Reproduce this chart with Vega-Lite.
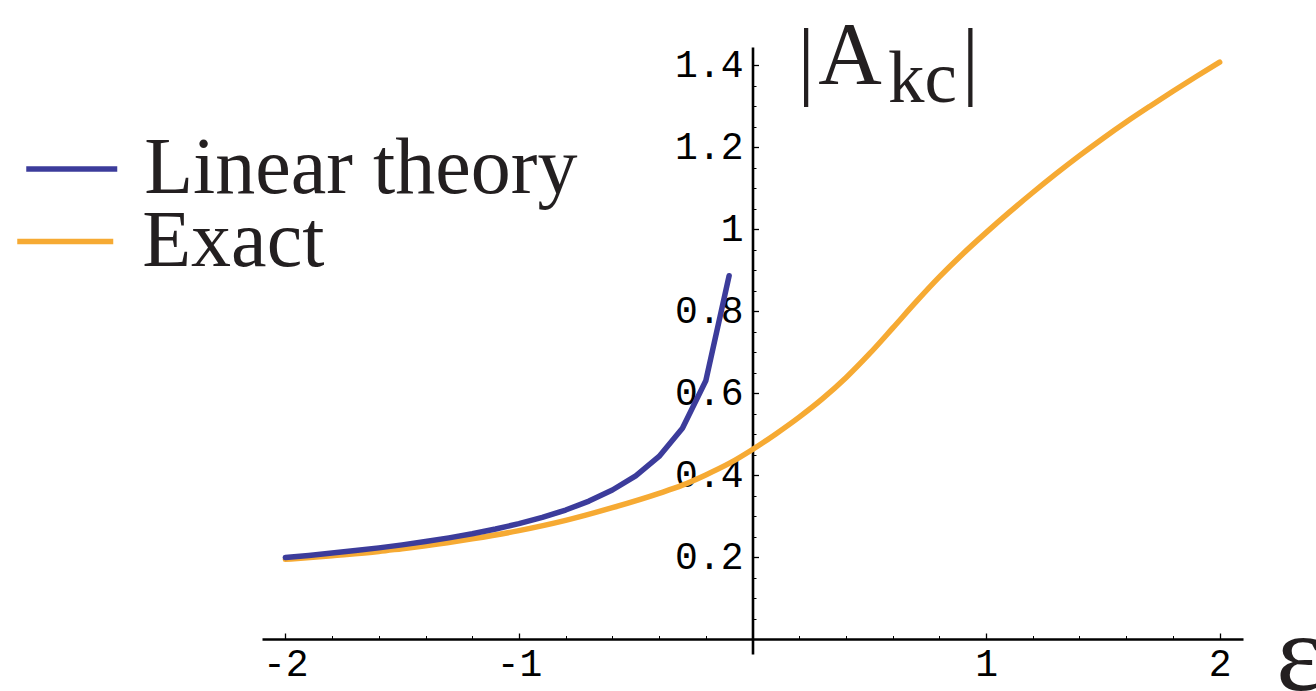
{
  "$schema": "https://vega.github.io/schema/vega-lite/v6.json",
  "width": 981,
  "height": 607,
  "autosize": {"type": "none"},
  "padding": {"left": 262, "top": 47, "right": 73, "bottom": 37},
  "background": "white",
  "config": {"view": {"stroke": null}},
  "datasets": {
    "curves": [
      {"eps": -2.0, "amp": 0.1994, "series": "Linear theory"},
      {"eps": -1.9, "amp": 0.2046, "series": "Linear theory"},
      {"eps": -1.8, "amp": 0.2102, "series": "Linear theory"},
      {"eps": -1.7, "amp": 0.2163, "series": "Linear theory"},
      {"eps": -1.6, "amp": 0.2229, "series": "Linear theory"},
      {"eps": -1.5, "amp": 0.2303, "series": "Linear theory"},
      {"eps": -1.4, "amp": 0.2383, "series": "Linear theory"},
      {"eps": -1.3, "amp": 0.2473, "series": "Linear theory"},
      {"eps": -1.2, "amp": 0.2574, "series": "Linear theory"},
      {"eps": -1.1, "amp": 0.2689, "series": "Linear theory"},
      {"eps": -1.0, "amp": 0.2820, "series": "Linear theory"},
      {"eps": -0.9, "amp": 0.2973, "series": "Linear theory"},
      {"eps": -0.8, "amp": 0.3153, "series": "Linear theory"},
      {"eps": -0.7, "amp": 0.3371, "series": "Linear theory"},
      {"eps": -0.6, "amp": 0.3641, "series": "Linear theory"},
      {"eps": -0.5, "amp": 0.3988, "series": "Linear theory"},
      {"eps": -0.4, "amp": 0.4459, "series": "Linear theory"},
      {"eps": -0.3, "amp": 0.5149, "series": "Linear theory"},
      {"eps": -0.2, "amp": 0.6306, "series": "Linear theory"},
      {"eps": -0.1, "amp": 0.8870, "series": "Linear theory"},
      {"eps": -2.0, "amp": 0.195, "series": "Exact"},
      {"eps": -1.8, "amp": 0.204, "series": "Exact"},
      {"eps": -1.6, "amp": 0.214, "series": "Exact"},
      {"eps": -1.5, "amp": 0.221, "series": "Exact"},
      {"eps": -1.4, "amp": 0.228, "series": "Exact"},
      {"eps": -1.2, "amp": 0.245, "series": "Exact"},
      {"eps": -1.0, "amp": 0.265, "series": "Exact"},
      {"eps": -0.8, "amp": 0.290, "series": "Exact"},
      {"eps": -0.6, "amp": 0.321, "series": "Exact"},
      {"eps": -0.4, "amp": 0.356, "series": "Exact"},
      {"eps": -0.3, "amp": 0.376, "series": "Exact"},
      {"eps": -0.2, "amp": 0.401, "series": "Exact"},
      {"eps": -0.1, "amp": 0.429, "series": "Exact"},
      {"eps": 0.0, "amp": 0.463, "series": "Exact"},
      {"eps": 0.1, "amp": 0.501, "series": "Exact"},
      {"eps": 0.2, "amp": 0.542, "series": "Exact"},
      {"eps": 0.3, "amp": 0.587, "series": "Exact"},
      {"eps": 0.4, "amp": 0.638, "series": "Exact"},
      {"eps": 0.5, "amp": 0.696, "series": "Exact"},
      {"eps": 0.6, "amp": 0.759, "series": "Exact"},
      {"eps": 0.7, "amp": 0.823, "series": "Exact"},
      {"eps": 0.8, "amp": 0.884, "series": "Exact"},
      {"eps": 0.9, "amp": 0.940, "series": "Exact"},
      {"eps": 1.0, "amp": 0.992, "series": "Exact"},
      {"eps": 1.1, "amp": 1.042, "series": "Exact"},
      {"eps": 1.2, "amp": 1.090, "series": "Exact"},
      {"eps": 1.3, "amp": 1.136, "series": "Exact"},
      {"eps": 1.4, "amp": 1.180, "series": "Exact"},
      {"eps": 1.5, "amp": 1.222, "series": "Exact"},
      {"eps": 1.6, "amp": 1.262, "series": "Exact"},
      {"eps": 1.7, "amp": 1.300, "series": "Exact"},
      {"eps": 1.8, "amp": 1.337, "series": "Exact"},
      {"eps": 1.9, "amp": 1.373, "series": "Exact"},
      {"eps": 2.0, "amp": 1.408, "series": "Exact"}
    ]
  },
  "data": {"name": "curves"},
  "layer": [
    {
      "transform": [{"filter": "datum.series === 'Exact'"}],
      "mark": {"type": "line", "strokeWidth": 5.5, "interpolate": "monotone", "strokeCap": "round"},
      "encoding": {
        "x": {
          "field": "eps", "type": "quantitative",
          "scale": {"domain": [-2.1, 2.1], "nice": false, "zero": false},
          "axis": {
            "orient": "bottom", "offset": -15, "title": null, "grid": false,
            "values": [-2, -1, 1, 2], "tickSize": -6, "tickWidth": 1.3, "tickColor": "black",
            "domainWidth": 2.6, "domainColor": "black",
            "labelFont": "Liberation Mono", "labelFontSize": 38, "labelColor": "black",
            "labelPadding": 12, "labelExpr": "'' + datum.value", "labelFlush": false, "labelOverlap": false
          }
        },
        "y": {
          "field": "amp", "type": "quantitative",
          "scale": {"domain": [-0.036, 1.445], "nice": false, "zero": false},
          "axis": {
            "orient": "left", "offset": -490.5, "title": null, "grid": false,
            "values": [0.2, 0.4, 0.6, 0.8, 1, 1.2, 1.4], "tickSize": -6, "tickWidth": 1.3, "tickColor": "black",
            "domainWidth": 2.6, "domainColor": "black",
            "labelFont": "Liberation Mono", "labelFontSize": 38, "labelColor": "black",
            "labelPadding": 15.5, "labelExpr": "'' + datum.value", "labelFlush": false, "labelOverlap": false
          }
        },
        "color": {
          "field": "series", "type": "nominal",
          "scale": {"domain": ["Exact"], "range": ["#f6aa33"]},
          "legend": {
            "orient": "none", "legendX": -247.75, "legendY": 143.5, "title": null, "padding": 0,
            "symbolType": "stroke", "symbolStrokeWidth": 5.5, "symbolSize": 9216,
            "labelFont": "Liberation Serif", "labelFontSize": 80, "labelColor": "#231f20",
            "labelOffset": 26, "labelLimit": 1000
          }
        }
      }
    },
    {
      "transform": [{"filter": "datum.series === 'Linear theory'"}],
      "mark": {"type": "line", "strokeWidth": 5.5, "interpolate": "linear", "strokeCap": "round", "strokeJoin": "round"},
      "encoding": {
        "x": {
          "field": "eps", "type": "quantitative",
          "scale": {"domain": [-2.1, 2.1], "nice": false, "zero": false},
          "axis": {
            "orient": "bottom", "offset": -15, "title": null, "grid": false, "domain": false, "labels": false,
            "values": [-1.8, -1.6, -1.4, -1.2, -0.8, -0.6, -0.4, -0.2, 0.2, 0.4, 0.6, 0.8, 1.2, 1.4, 1.6, 1.8],
            "tickSize": -3.5, "tickWidth": 1, "tickColor": "black"
          }
        },
        "y": {
          "field": "amp", "type": "quantitative",
          "scale": {"domain": [-0.036, 1.445], "nice": false, "zero": false},
          "axis": {
            "orient": "left", "offset": -490.5, "title": null, "grid": false, "domain": false, "labels": false,
            "values": [0.05, 0.1, 0.15, 0.25, 0.3, 0.35, 0.45, 0.5, 0.55, 0.65, 0.7, 0.75, 0.85, 0.9, 0.95, 1.05, 1.1, 1.15, 1.25, 1.3, 1.35],
            "tickSize": -3.5, "tickWidth": 1, "tickColor": "black"
          }
        },
        "color": {
          "field": "series", "type": "nominal",
          "scale": {"domain": ["Linear theory"], "range": ["#3c3c9b"]},
          "legend": {
            "orient": "none", "legendX": -238.75, "legendY": 73.45, "title": null, "padding": 0,
            "symbolType": "stroke", "symbolStrokeWidth": 5.5, "symbolSize": 8281,
            "labelFont": "Liberation Serif", "labelFontSize": 80, "labelColor": "#231f20",
            "labelOffset": 24, "labelLimit": 1000
          }
        }
      }
    },
    {
      "data": {"values": [{"t": "|"}]},
      "mark": {"type": "text", "font": "Liberation Serif", "fontSize": 86, "align": "center", "baseline": "alphabetic", "color": "#231f20"},
      "encoding": {
        "x": {"datum": 0.229, "type": "quantitative", "scale": {"domain": [-2.1, 2.1], "nice": false, "zero": false}, "axis": null},
        "y": {"datum": 1.3443, "type": "quantitative", "scale": {"domain": [-0.036, 1.445], "nice": false, "zero": false}, "axis": null},
        "text": {"field": "t"}
      }
    },
    {
      "data": {"values": [{"t": "A"}]},
      "mark": {"type": "text", "font": "Liberation Serif", "fontSize": 88, "align": "center", "baseline": "alphabetic", "color": "#231f20"},
      "encoding": {
        "x": {"datum": 0.4174, "type": "quantitative", "scale": {"domain": [-2.1, 2.1], "nice": false, "zero": false}, "axis": null},
        "y": {"datum": 1.3572, "type": "quantitative", "scale": {"domain": [-0.036, 1.445], "nice": false, "zero": false}, "axis": null},
        "text": {"field": "t"}
      }
    },
    {
      "data": {"values": [{"t": "kc"}]},
      "mark": {"type": "text", "font": "Liberation Serif", "fontSize": 73, "align": "center", "baseline": "alphabetic", "color": "#231f20"},
      "encoding": {
        "x": {"datum": 0.7278, "type": "quantitative", "scale": {"domain": [-2.1, 2.1], "nice": false, "zero": false}, "axis": null},
        "y": {"datum": 1.3116, "type": "quantitative", "scale": {"domain": [-0.036, 1.445], "nice": false, "zero": false}, "axis": null},
        "text": {"field": "t"}
      }
    },
    {
      "data": {"values": [{"t": "|"}]},
      "mark": {"type": "text", "font": "Liberation Serif", "fontSize": 86, "align": "center", "baseline": "alphabetic", "color": "#231f20"},
      "encoding": {
        "x": {"datum": 0.9325, "type": "quantitative", "scale": {"domain": [-2.1, 2.1], "nice": false, "zero": false}, "axis": null},
        "y": {"datum": 1.3443, "type": "quantitative", "scale": {"domain": [-0.036, 1.445], "nice": false, "zero": false}, "axis": null},
        "text": {"field": "t"}
      }
    },
    {
      "data": {"values": [{"t": "ε"}]},
      "mark": {"type": "text", "font": "Liberation Serif", "fontSize": 110, "align": "left", "baseline": "alphabetic", "color": "#231f20"},
      "encoding": {
        "x": {"datum": 2.2427, "type": "quantitative", "scale": {"domain": [-2.1, 2.1], "nice": false, "zero": false}, "axis": null},
        "y": {"datum": -0.1232, "type": "quantitative", "scale": {"domain": [-0.036, 1.445], "nice": false, "zero": false}, "axis": null},
        "text": {"field": "t"}
      }
    }
  ],
  "resolve": {"axis": {"x": "independent", "y": "independent"}, "scale": {"color": "independent"}}
}
